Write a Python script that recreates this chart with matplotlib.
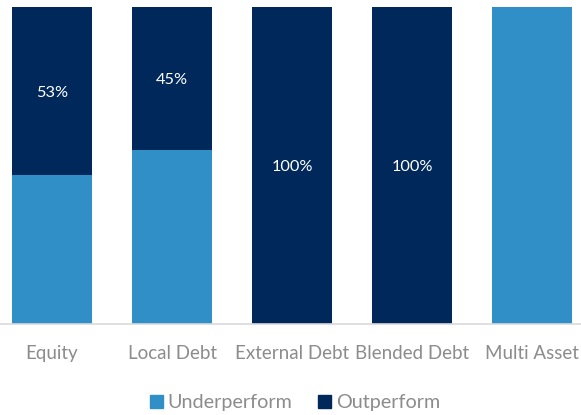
import matplotlib
matplotlib.use("Agg")
import matplotlib.pyplot as plt
from matplotlib.patches import Patch

categories = ["Equity", "Local Debt", "External Debt", "Blended Debt", "Multi Asset"]
underperform = [47, 55, 0, 0, 100]
outperform = [53, 45, 100, 100, 0]

light = "#2F8FC6"
dark = "#00285A"

plt.rcParams["font.family"] = ["Lato", "DejaVu Sans"]

fig = plt.figure(figsize=(5.81, 4.15), dpi=100)
ax = fig.add_axes([0, 0.2181, 1, 0.7650])

x = list(range(len(categories)))
ax.bar(x, underperform, width=0.667, color=light, edgecolor="none")
ax.bar(x, outperform, width=0.667, bottom=underperform, color=dark, edgecolor="none")

for i, (u, o) in enumerate(zip(underperform, outperform)):
    if o > 0:
        ax.text(i, u + o / 2, f"{o}%", ha="center", va="center_baseline",
                color="white", fontsize=11.8)

ax.set_xlim(-0.4333, 4.408)
ax.set_ylim(0, 100)
ax.set_yticks([])
ax.set_xticks(x)
ax.set_xticklabels(categories, fontsize=13.5, color="#8C8C8C")
ax.tick_params(axis="x", length=0, pad=15)
for s in ["top", "left", "right"]:
    ax.spines[s].set_visible(False)
ax.spines["bottom"].set_color("#D9D9D9")
ax.spines["bottom"].set_linewidth(1.2)

handles = [Patch(color=light, label="Underperform"), Patch(color=dark, label="Outperform")]
fig.legend(handles=handles, loc="center", bbox_to_anchor=(0.508, 0.029), ncol=2,
           frameon=False, fontsize=14.2, labelcolor="#8C8C8C", handlelength=0.63,
           handleheight=0.63, handletextpad=0.25, columnspacing=1.3)

fig.savefig("out.png", dpi=100)
